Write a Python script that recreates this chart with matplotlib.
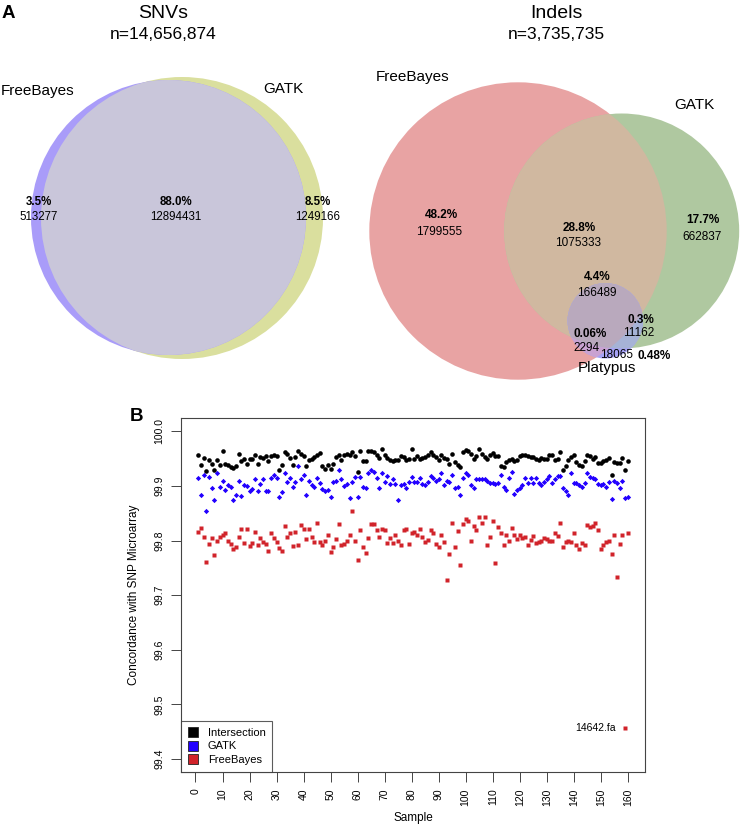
import numpy as np
import matplotlib
matplotlib.use('Agg')
import matplotlib.pyplot as plt
from matplotlib.patches import Circle, Polygon
from matplotlib.lines import Line2D

plt.rcParams['font.family'] = ['Liberation Sans', 'DejaVu Sans']

# ---------------- data ----------------
snv_title = 'SNVs'
snv_total = 'n=14,656,874'
snv_sets = ['FreeBayes', 'GATK']
snv_counts = [513277, 12894431, 1249166]          # FB only, both, GATK only
snv_pcts = ['3.5%', '88.0%', '8.5%']

indel_title = 'Indels'
indel_total = 'n=3,735,735'
indel_sets = ['FreeBayes', 'GATK', 'Platypus']
# FB only, FB&GATK, GATK only, all three, GATK&Plat, FB&Plat, Plat only
indel_counts = [1799555, 1075333, 662837, 166489, 11162, 2294, 18065]
indel_pcts = ['48.2%', '28.8%', '17.7%', '4.4%', '0.3%', '0.06%', '0.48%']

samples = list(range(1, 161))
intersection = [
    99.957, 99.938, 99.952, 99.927, 99.948, 99.941, 99.930, 99.947, 99.938, 99.965,
    99.941, 99.939, 99.935, 99.933, 99.937, 99.958, 99.946, 99.949, 99.941, 99.949,
    99.949, 99.957, 99.941, 99.953, 99.951, 99.955, 99.945, 99.955, 99.956, 99.955,
    99.930, 99.939, 99.962, 99.958, 99.951, 99.939, 99.953, 99.965, 99.959, 99.955,
    99.937, 99.947, 99.950, 99.953, 99.956, 99.961, 99.936, 99.932, 99.939, 99.932,
    99.941, 99.954, 99.956, 99.948, 99.956, 99.959, 99.957, 99.963, 99.955, 99.926,
    99.964, 99.946, 99.946, 99.965, 99.965, 99.963, 99.957, 99.951, 99.967, 99.956,
    99.951, 99.947, 99.946, 99.947, 99.947, 99.955, 99.953, 99.947, 99.949, 99.968,
    99.950, 99.955, 99.950, 99.951, 99.953, 99.956, 99.962, 99.957, 99.953, 99.948,
    99.956, 99.952, 99.949, 99.941, 99.959, 99.944, 99.939, 99.935, 99.962, 99.966,
    99.965, 99.959, 99.949, 99.955, 99.968, 99.959, 99.953, 99.950, 99.956, 99.960,
    99.955, 99.955, 99.936, 99.934, 99.944, 99.948, 99.950, 99.945, 99.948, 99.955,
    99.956, 99.957, 99.955, 99.954, 99.954, 99.950, 99.948, 99.951, 99.950, 99.949,
    99.956, 99.957, 99.948, 99.950, 99.962, 99.930, 99.937, 99.948, 99.954, 99.957,
    99.944, 99.938, 99.937, 99.946, 99.957, 99.955, 99.949, 99.954, 99.943, 99.943,
    99.945, 99.948, 99.951, 99.921, 99.944, 99.943, 99.942, 99.952, 99.930, 99.945]
gatk = [
    99.914, 99.884, 99.920, 99.855, 99.916, 99.896, 99.875, 99.923, 99.898, 99.910,
    99.893, 99.901, 99.899, 99.875, 99.883, 99.909, 99.881, 99.902, 99.900, 99.891,
    99.895, 99.912, 99.891, 99.904, 99.913, 99.891, 99.891, 99.915, 99.921, 99.915,
    99.880, 99.889, 99.924, 99.907, 99.915, 99.898, 99.907, 99.937, 99.913, 99.921,
    99.883, 99.909, 99.902, 99.898, 99.915, 99.906, 99.895, 99.891, 99.893, 99.880,
    99.907, 99.909, 99.929, 99.913, 99.900, 99.903, 99.878, 99.907, 99.916, 99.879,
    99.916, 99.898, 99.896, 99.923, 99.930, 99.926, 99.915, 99.896, 99.924, 99.907,
    99.918, 99.904, 99.912, 99.904, 99.874, 99.901, 99.904, 99.897, 99.907, 99.916,
    99.907, 99.907, 99.915, 99.904, 99.902, 99.907, 99.919, 99.915, 99.910, 99.912,
    99.924, 99.901, 99.910, 99.907, 99.921, 99.897, 99.898, 99.883, 99.915, 99.924,
    99.921, 99.902, 99.896, 99.913, 99.913, 99.913, 99.912, 99.910, 99.906, 99.905,
    99.904, 99.905, 99.921, 99.898, 99.892, 99.915, 99.926, 99.886, 99.892, 99.896,
    99.901, 99.915, 99.905, 99.915, 99.905, 99.915, 99.905, 99.901, 99.907, 99.912,
    99.919, 99.906, 99.912, 99.918, 99.918, 99.896, 99.890, 99.884, 99.924, 99.906,
    99.906, 99.902, 99.899, 99.906, 99.924, 99.917, 99.914, 99.912, 99.903, 99.902,
    99.904, 99.899, 99.907, 99.877, 99.909, 99.906, 99.897, 99.909, 99.878, 99.880]
freebayes = [
    99.816, 99.823, 99.807, 99.761, 99.794, 99.805, 99.774, 99.799, 99.807, 99.810,
    99.813, 99.800, 99.794, 99.785, 99.788, 99.807, 99.821, 99.796, 99.821, 99.790,
    99.795, 99.816, 99.792, 99.804, 99.798, 99.794, 99.780, 99.814, 99.805, 99.798,
    99.787, 99.780, 99.827, 99.807, 99.813, 99.790, 99.816, 99.792, 99.828, 99.822,
    99.803, 99.821, 99.807, 99.798, 99.833, 99.798, 99.792, 99.799, 99.810, 99.779,
    99.788, 99.803, 99.831, 99.792, 99.794, 99.799, 99.811, 99.854, 99.799, 99.764,
    99.820, 99.788, 99.777, 99.805, 99.831, 99.831, 99.819, 99.807, 99.822, 99.819,
    99.796, 99.805, 99.796, 99.810, 99.800, 99.792, 99.819, 99.821, 99.794, 99.813,
    99.816, 99.811, 99.822, 99.807, 99.797, 99.801, 99.819, 99.813, 99.794, 99.788,
    99.811, 99.797, 99.727, 99.776, 99.833, 99.788, 99.817, 99.756, 99.831, 99.840,
    99.836, 99.799, 99.826, 99.819, 99.843, 99.833, 99.843, 99.792, 99.807, 99.836,
    99.758, 99.824, 99.814, 99.792, 99.811, 99.800, 99.823, 99.811, 99.802, 99.811,
    99.805, 99.807, 99.792, 99.801, 99.809, 99.795, 99.797, 99.799, 99.805, 99.803,
    99.800, 99.799, 99.814, 99.808, 99.833, 99.788, 99.797, 99.799, 99.797, 99.814,
    99.791, 99.785, 99.795, 99.792, 99.828, 99.824, 99.826, 99.832, 99.820, 99.784,
    99.792, 99.797, 99.799, 99.776, 99.811, 99.733, 99.794, 99.811, 99.457, 99.814]
series_names = ['Intersection', 'GATK', 'FreeBayes']
outlier_label = '14642.fa'
outlier_sample = 159
x_ticks = list(range(0, 161, 10))
y_ticks = [99.4, 99.5, 99.6, 99.7, 99.8, 99.9, 100.0]

# ---------------- styles / layout ----------------
C_BLACK, C_BLUE, C_RED = '#000000', '#2200ff', '#d1232a'
W, H = 740, 827

fig = plt.figure(figsize=(W / 100, H / 100), dpi=100)
bg = fig.add_axes([0, 0, 1, 1])
bg.set_xlim(0, W)
bg.set_ylim(H, 0)
bg.axis('off')


def circ(c, r, color, z, clip=None):
    p = Circle(c, r, facecolor=color, edgecolor='none', zorder=z, lw=0)
    bg.add_patch(p)
    if clip is not None:
        p.set_clip_path(clip)
    return p


def clipc(c, r):
    return Circle(c, r, transform=bg.transData)


def lens(c1, r1, c2, r2, n=1440):
    t = np.linspace(0, 2 * np.pi, n, endpoint=False)
    p1 = np.c_[c1[0] + r1 * np.cos(t), c1[1] + r1 * np.sin(t)]
    p2 = np.c_[c2[0] + r2 * np.cos(t), c2[1] + r2 * np.sin(t)]
    a = p1[np.hypot(p1[:, 0] - c2[0], p1[:, 1] - c2[1]) <= r2]
    b = p2[np.hypot(p2[:, 0] - c1[0], p2[:, 1] - c1[1]) <= r1]
    pts = np.vstack([a, b])
    cen = pts.mean(0)
    ang = np.arctan2(pts[:, 1] - cen[1], pts[:, 0] - cen[0])
    return Polygon(pts[np.argsort(ang)], closed=True, transform=bg.transData)


# ---- SNV Venn ----
fbS, rfbS = (168.5, 217.5), 137.5
gS, rgS = (182.0, 218.0), 141.0
circ(gS, rgS, '#dadf9e', 1)
circ(fbS, rfbS, '#a99cf9', 2)
circ(fbS, rfbS, '#c9c6da', 3, clip=clipc(gS, rgS))

bg.text(163.3, 13.5, snv_title, ha='center', va='center', fontsize=14)
bg.text(163.3, 34.5, snv_total, ha='center', va='center', fontsize=12.5)
bg.text(37.5, 91, snv_sets[0], ha='center', va='center', fontsize=11)
bg.text(283, 89, snv_sets[1], ha='center', va='center', fontsize=11)
snv_pos = [(39, 201.7), (176, 201.7), (318, 201.7)]
for (x, y), n, p in zip(snv_pos, snv_counts, snv_pcts):
    bg.text(x, y, p, ha='center', va='center', fontsize=8.3, fontweight='bold', zorder=10)
    bg.text(x, y + 15.6, str(n), ha='center', va='center', fontsize=8.3, zorder=10)
bg.text(8, 13, 'A', ha='center', va='center', fontsize=13.5, fontweight='bold')

# ---- Indel Venn ----
fbI, rfbI = (518.0, 231.0), 148.7
gI, rgI = (621.7, 231.0), 117.5
pI, rpI = (605.3, 320.8), 37.7
circ(fbI, rfbI, '#e8a3a3', 1)
circ(gI, rgI, '#afc8a0', 2)
circ(gI, rgI, '#d0b8a0', 3, clip=clipc(fbI, rfbI))
circ(pI, rpI, '#a6a2f5', 4)
circ(pI, rpI, '#c9a2d2', 5, clip=clipc(fbI, rfbI))
circ(pI, rpI, '#a6b3d6', 6, clip=clipc(gI, rgI))
circ(pI, rpI, '#b9a9bd', 7, clip=lens(fbI, rfbI, gI, rgI))

bg.text(556.7, 13.5, indel_title, ha='center', va='center', fontsize=14)
bg.text(556.7, 34.5, indel_total, ha='center', va='center', fontsize=12.5)
bg.text(412.5, 77, indel_sets[0], ha='center', va='center', fontsize=11)
bg.text(694, 105, indel_sets[1], ha='center', va='center', fontsize=11)
bg.text(606.7, 368, indel_sets[2], ha='center', va='center', fontsize=11, zorder=10)

ind_pct_pos = [(441.7, 215), (579, 228), (703.3, 220), (597.3, 277), (640.7, 320), (590, 334), (654, 356)]
ind_cnt_pos = [(439, 232), (578.3, 243), (702.3, 237), (596.7, 293), (638.7, 333), (586.7, 348), (616.7, 355)]
for (x, y), p in zip(ind_pct_pos, indel_pcts):
    bg.text(x, y, p, ha='center', va='center', fontsize=8.5, fontweight='bold', zorder=10)
for (x, y), n in zip(ind_cnt_pos, indel_counts):
    bg.text(x, y, str(n), ha='center', va='center', fontsize=8.5, zorder=10)

# ---- Panel B ----
bg.text(136.7, 416.7, 'B', ha='center', va='center', fontsize=13.5, fontweight='bold')

L, R, T, B = 181, 645, 418.3, 772
ax = fig.add_axes([L / W, 1 - B / H, (R - L) / W, (B - T) / H])
ax.plot(samples, intersection, ls='none', marker='o', ms=3.3, mfc=C_BLACK, mec='none')
ax.plot(samples, gatk, ls='none', marker='D', ms=2.7, mfc=C_BLUE, mec='none')
ax.plot(samples, freebayes, ls='none', marker='s', ms=2.6, mfc=C_RED, mec='none')
ax.annotate(outlier_label, (outlier_sample, freebayes[samples.index(outlier_sample)]),
            xytext=(-7, 0), textcoords='offset points', ha='right', va='center', fontsize=7.5)

ax.set_xlim(1 - 0.04 * 159, 160 + 0.04 * 159)
ax.set_ylim(99.4 - 0.024, 100.0 + 0.024)
ax.set_xticks(x_ticks)
ax.set_xticklabels([str(v) for v in x_ticks], rotation=90, va='top', ha='center')
ax.set_yticks(y_ticks)
ax.set_yticklabels(['%.1f' % v for v in y_ticks], rotation=90, va='center', ha='right')
ax.tick_params(direction='out', length=7, width=0.7, color='#444444', labelsize=7.5, pad=5)
for s in ax.spines.values():
    s.set_color('#444444')
    s.set_linewidth(0.8)
ax.set_xlabel('Sample', fontsize=8.5, labelpad=4)
ax.set_ylabel('Concordance with SNP Microarray', fontsize=8.5, labelpad=10)

handles = [Line2D([], [], ls='none', marker='s', ms=7, mfc=c, mec='#222222', mew=0.6)
           for c in (C_BLACK, C_BLUE, C_RED)]
leg = ax.legend(handles, series_names, loc='lower left', bbox_to_anchor=(0, 0),
                borderaxespad=0, frameon=True, fancybox=False, edgecolor='#333333',
                fontsize=8, handlelength=1.0, handletextpad=0.8, borderpad=0.6,
                labelspacing=0.35)
leg.get_frame().set_linewidth(0.8)

fig.savefig('out.png', dpi=100)
